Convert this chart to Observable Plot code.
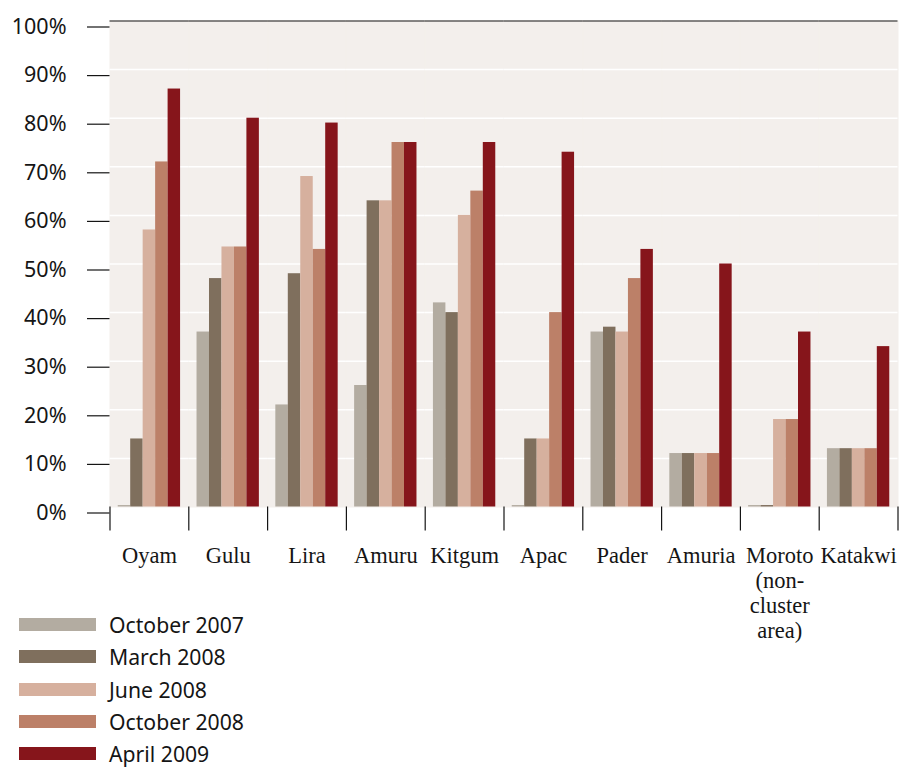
<!DOCTYPE html>
<html><head><meta charset="utf-8">
<script src="https://cdn.jsdelivr.net/npm/d3@7"></script>
<script src="https://cdn.jsdelivr.net/npm/@observablehq/plot@0.6"></script>
<style>
body{margin:0;background:#fff;}
#wrap{position:relative;width:899px;height:767px;overflow:hidden;}
#legend{position:absolute;left:19px;top:608.5px;font-family:"Noto Sans";font-size:21.2px;line-height:1.1;color:#151515;}
.row{display:flex;align-items:center;height:32.3px;white-space:nowrap;}
.sw{width:77px;height:13px;margin-right:13px;flex:none;}
</style></head><body><div id="wrap"><div id="chart"></div><div id="legend"></div></div>
<script>
const districts = ["Oyam","Gulu","Lira","Amuru","Kitgum","Apac","Pader","Amuria","Moroto\n(non-\ncluster\narea)","Katakwi"];
const series = ["October 2007","March 2008","June 2008","October 2008","April 2009"];
const colors = ["#b3aca1","#7f6f5d","#d6b09e","#bc8068","#86151b"];
const oct2007 = [0.3,36,21,25,42,0.3,36,11,0.3,12];
const mar2008 = [14,47,48,63,40,14,37,11,0.3,12];
const jun2008 = [57,53.5,68,63,60,14,36,11,18,12];
const oct2008 = [71,53.5,53,75,65,40,47,11,18,12];
const apr2009 = [86,80,79,75,75,73,53,50,36,33];
const yTicks = [0,10,20,30,40,50,60,70,80,90,100];
const gridLines = [10,20,30,40,50,60,70,80,90];

const valuesBySeries = [oct2007, mar2008, jun2008, oct2008, apr2009];
const data = [];
districts.forEach((d, i) => series.forEach((s, j) => data.push({district: d, series: s, value: valuesBySeries[j][i]})));

const W = 899, H = 767, mL = 109.5, mR = 1.5, mT = 20.5, mB = 260.5;
const facetW = (W - mL - mR) / districts.length;
const bg = "#f3efec";

const chart = Plot.plot({
  width: W, height: H,
  marginLeft: mL, marginRight: mR, marginTop: mT, marginBottom: mB,
  style: {background: "transparent", color: "#151515"},
  fx: {domain: districts, padding: 0, round: false, label: null, axis: null},
  x: {domain: series, paddingInner: 0, paddingOuter: 0.66, round: false, axis: null},
  y: {domain: [0, 100], axis: null},
  color: {domain: series, range: colors},
  marks: [
    Plot.frame({fill: bg, stroke: bg}),
    Plot.ruleY(gridLines, {stroke: "white", strokeWidth: 1.5}),
    Plot.barY(data, {fx: "district", x: "series", y: "value", fill: "series"}),
    Plot.ruleY([100], {stroke: "#151515", strokeWidth: 1.2}),
    Plot.axisY({ticks: yTicks, tickFormat: d => d + "%", tickSize: 22.5, tickPadding: 21, fontSize: 21.5, fontFamily: "Noto Sans", dy: 6, strokeWidth: 1.2, label: null}),
    Plot.axisFx({anchor: "bottom", tickFormat: () => "", tickSize: 24, dx: -facetW / 2, strokeWidth: 1.2, label: null}),
    Plot.axisFx({anchor: "bottom", ticks: [districts[districts.length - 1]], tickFormat: () => "", tickSize: 24, dx: facetW / 2, strokeWidth: 1.2, label: null}),
    Plot.axisFx({anchor: "bottom", tickSize: 0, tickPadding: 38, fontSize: 22.5, fontFamily: "Liberation Serif", lineHeight: 1.12, lineAnchor: "top", label: null})
  ]
});
document.getElementById("chart").append(chart);

const legend = d3.select("#legend");
series.forEach((s, j) => {
  const row = legend.append("div").attr("class", "row");
  row.append("div").attr("class", "sw").style("background", colors[j]);
  row.append("span").text(s);
});
</script></body></html>
